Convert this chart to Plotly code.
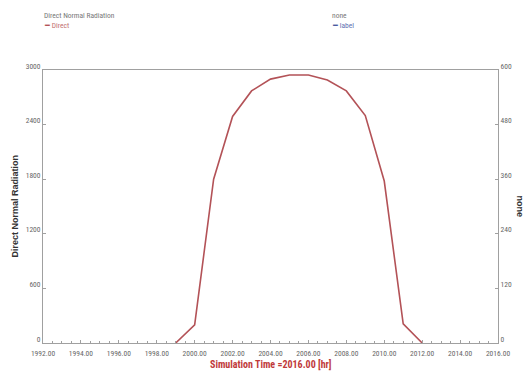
import plotly.graph_objects as go

hours = [1999, 2000, 2001, 2002, 2003, 2004, 2005, 2006, 2007, 2008, 2009, 2010, 2011, 2012]
direct = [0, 200, 1800, 2490, 2770, 2900, 2945, 2945, 2890, 2770, 2500, 1780, 210, 0]
label_x = []
label_y = []

x_ticks = list(range(1992, 2017, 2))
x_ticktext = [f"{v:.2f}" for v in x_ticks]
y_left_ticks = [0, 600, 1200, 1800, 2400, 3000]
y_right_ticks = [0, 120, 240, 360, 480, 600]

RED = "#b35257"
BLUE = "#4a5aa0"
GRAY = "#a0a0a0"
TXT = "#666666"
NARROW = "Liberation Sans Narrow, Arial Narrow, Roboto Condensed, Liberation Sans, sans-serif"
TICKFONT = dict(family=NARROW, size=7.5, color=TXT)

fig = go.Figure()
fig.add_trace(go.Scatter(x=hours, y=direct, mode="lines", name="Direct",
                         line=dict(color=RED, width=1.6), showlegend=False))
fig.add_trace(go.Scatter(x=label_x, y=label_y, mode="lines", name="label", yaxis="y2",
                         line=dict(color=BLUE, width=1.5), showlegend=False))

axis_common = dict(showgrid=False, zeroline=False, showline=True, linecolor=GRAY, linewidth=1,
                   ticks="inside", ticklen=3, tickcolor=GRAY, tickfont=TICKFONT)

fig.update_layout(
    width=525, height=376,
    margin=dict(l=43, r=27, t=70, b=33),
    paper_bgcolor="white", plot_bgcolor="white",
    xaxis=dict(range=[1992, 2016], tickvals=x_ticks, ticktext=x_ticktext, mirror=True,
               ticklabelstandoff=3,
               minor=dict(dtick=0.5, ticks="inside", ticklen=2, tickcolor=GRAY), **axis_common),
    yaxis=dict(range=[0, 3000], tickvals=y_left_ticks, ticklabelshift=-4, **axis_common),
    yaxis2=dict(range=[0, 600], tickvals=y_right_ticks, overlaying="y", side="right",
                ticklabelshift=-4, **axis_common),
)

ann = []
small = dict(family=NARROW, size=7.5)
ann.append(dict(x=0, y=1, xref="paper", yref="paper", xshift=-1, yshift=55, xanchor="left", yanchor="middle",
                text="Direct Normal Radiation", showarrow=False, font=dict(color="#777777", **small)))
ann.append(dict(x=0, y=1, xref="paper", yref="paper", xshift=-1, yshift=45, xanchor="left", yanchor="middle",
                text=f"<span style='color:{RED}'>━</span> Direct", showarrow=False, font=dict(color="#c27070", **small)))
ann.append(dict(x=0, y=1, xref="paper", yref="paper", xshift=287, yshift=55, xanchor="left", yanchor="middle",
                text="none", showarrow=False, font=dict(color="#777777", **small)))
ann.append(dict(x=0, y=1, xref="paper", yref="paper", xshift=287, yshift=45, xanchor="left", yanchor="middle",
                text=f"<span style='color:{BLUE}'>━</span> label", showarrow=False, font=dict(color="#6070b0", **small)))
ann.append(dict(x=0.5, y=0, xref="paper", yref="paper", yshift=-21, xanchor="center", yanchor="middle",
                text="<b>Simulation Time =2016.00 [hr]</b>", showarrow=False,
                font=dict(family=NARROW, size=10, color="#c03a3a")))
ann.append(dict(x=0, y=0.5, xref="paper", yref="paper", xshift=-29, xanchor="center", yanchor="middle",
                text="<b>Direct Normal Radiation</b>", textangle=-90, showarrow=False,
                font=dict(family="Liberation Sans, sans-serif", size=9, color="#333333")))
ann.append(dict(x=1, y=0.5, xref="paper", yref="paper", xshift=22, xanchor="center", yanchor="middle",
                text="<b>none</b>", textangle=90, showarrow=False,
                font=dict(family="Liberation Sans, sans-serif", size=9, color="#333333")))
fig.update_layout(annotations=ann)

fig.write_html("out.html")
